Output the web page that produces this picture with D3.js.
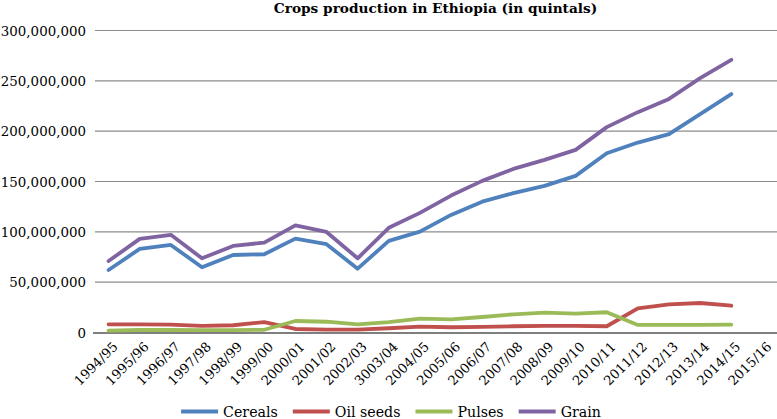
<!DOCTYPE html>
<html>
<head>
<meta charset="utf-8">
<script src="https://cdn.jsdelivr.net/npm/d3@7"></script>
<style>
  html, body { margin: 0; padding: 0; background: #fff; }
  svg { display: block; }
  svg text { font-family: "DejaVu Serif", "Liberation Serif", "Noto Serif", serif; fill: #000; }
</style>
</head>
<body>
<svg id="chart" width="777" height="419"></svg>
<script>
const categories = ["1994/95","1995/96","1996/97","1997/98","1998/99","1999/00","2000/01","2001/02","2002/03","3003/04","2004/05","2005/06","2006/07","2007/08","2008/09","2009/10","2010/11","2011/12","2012/13","2013/14","2014/15","2015/16"];
const cereals = [62100000, 83000000, 87000000, 64800000, 77000000, 77700000, 93300000, 87700000, 63400000, 91000000, 100200000, 116800000, 130000000, 138400000, 145600000, 155600000, 178000000, 188700000, 197000000, 216900000, 236800000];
const oilSeeds = [8100000, 8100000, 7800000, 6500000, 7200000, 10400000, 3500000, 2800000, 2800000, 4200000, 5800000, 5200000, 5500000, 6200000, 6500000, 6500000, 6200000, 24000000, 28000000, 29300000, 26600000];
const pulses = [1800000, 2500000, 2500000, 2400000, 2400000, 2700000, 11400000, 10700000, 8100000, 10400000, 13700000, 13100000, 15400000, 18100000, 19700000, 18700000, 20100000, 7500000, 7500000, 7500000, 7800000];
const grain = [71000000, 93000000, 97000000, 73700000, 86000000, 89300000, 106500000, 99900000, 73700000, 104000000, 118800000, 136000000, 150600000, 162500000, 171500000, 181400000, 204000000, 218900000, 232000000, 252700000, 270900000];
const yTicks = [0, 50000000, 100000000, 150000000, 200000000, 250000000, 300000000];
const seriesNames = ["Cereals", "Oil seeds", "Pulses", "Grain"];
const seriesColors = ["#4F81BD", "#C0504D", "#9BBB59", "#8064A2"];
const title = "Crops production in Ethiopia (in quintals)";

const series = [cereals, oilSeeds, pulses, grain];
const svg = d3.select("#chart");
const plotLeft = 93, plotRight = 778, plotTop = 30.5, plotBottom = 332.5;

const x = d3.scaleBand().domain(categories).range([plotLeft, plotRight]).paddingInner(0).paddingOuter(0);
const y = d3.scaleLinear().domain([0, 300000000]).range([plotBottom, plotTop]);
const cx = c => x(c) + x.bandwidth() / 2;

// gridlines
svg.append("g").selectAll("line").data(yTicks.filter(d => d > 0)).join("line")
  .attr("x1", plotLeft + 2).attr("x2", 777)
  .attr("y1", d => y(d)).attr("y2", d => y(d))
  .attr("stroke", "#8c8c8c").attr("stroke-width", 1.2);

// y axis labels
const yAxis = svg.append("g").attr("transform", `translate(${plotLeft - 7},0)`)
  .call(d3.axisLeft(y).tickValues(yTicks).tickFormat(d3.format(",")).tickSize(0).tickPadding(0));
yAxis.attr("font-family", null);
yAxis.select(".domain").remove();
yAxis.selectAll("text").attr("font-size", 13.4).attr("dy", "0.36em").attr("fill", "#000");

// x axis
const xAxis = svg.append("g").attr("transform", `translate(0,${plotBottom})`)
  .call(d3.axisBottom(x).tickSize(0).tickPadding(0));
xAxis.attr("font-family", null);
xAxis.select(".domain").attr("d", `M${plotLeft},0.5H777`).attr("stroke", "#000").attr("stroke-width", 1.2);
xAxis.selectAll(".tick text")
  .attr("font-size", 13.2)
  .attr("text-anchor", "end").attr("fill", "#000")
  .attr("y", 0).attr("dy", 0)
  .attr("transform", "translate(10,15) rotate(-45)");

// lines
const line = d3.line().x((d, i) => cx(categories[i])).y(d => y(d));
series.forEach((s, k) => {
  svg.append("path").datum(s).attr("d", line)
    .attr("fill", "none").attr("stroke", seriesColors[k]).attr("stroke-width", 3.8)
    .attr("stroke-linejoin", "round").attr("stroke-linecap", "round");
});

// title
svg.append("text").attr("x", (plotLeft + plotRight) / 2).attr("y", 13).attr("text-anchor", "middle")
  .attr("font-size", 13.7).attr("font-weight", "bold").text(title);

// legend
const lg = svg.append("g");
let pos = 0;
seriesNames.forEach((n, k) => {
  const g = lg.append("g");
  g.append("line").attr("x1", 0).attr("x2", 37).attr("y1", 0).attr("y2", 0)
    .attr("stroke", seriesColors[k]).attr("stroke-width", 4);
  const t = g.append("text").attr("x", 42).attr("y", 5).attr("font-size", 14.2).text(n);
  const w = t.node().getComputedTextLength();
  g.attr("transform", `translate(${pos},0)`);
  pos += 42 + w + 15;
});
const totalW = pos - 15;
lg.attr("transform", `translate(${391 - totalW / 2},411.5)`);
</script>
</body>
</html>
